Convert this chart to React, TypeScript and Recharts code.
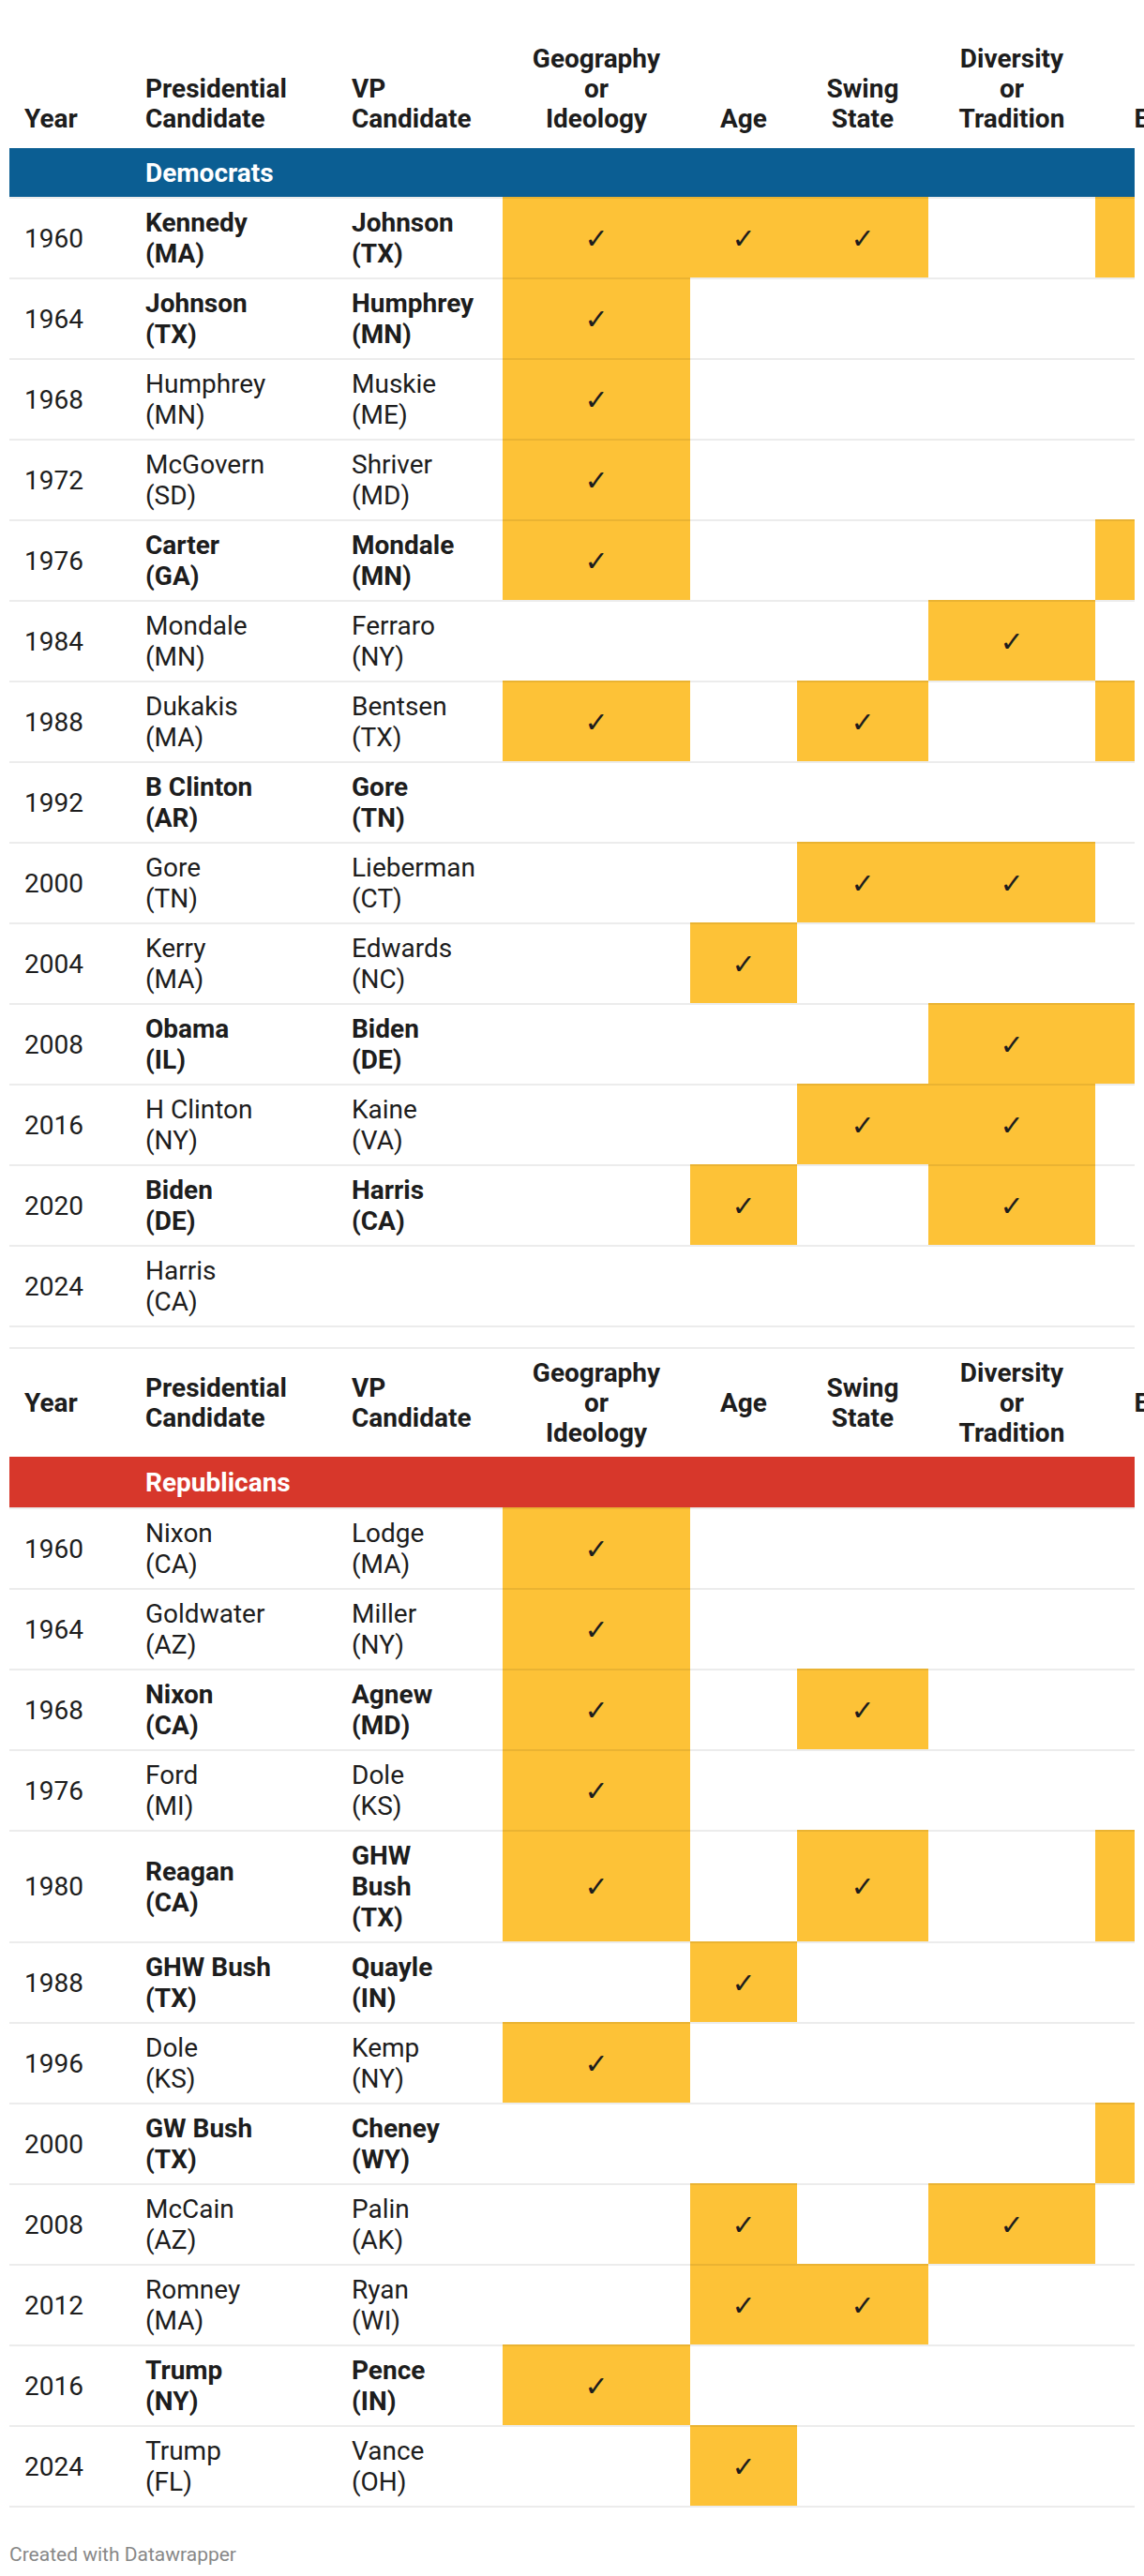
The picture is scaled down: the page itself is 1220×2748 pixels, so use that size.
import React from "react";
import { ScatterChart, Scatter, XAxis, YAxis, ReferenceArea } from "recharts";

const textHeaders = ["Year", "Presidential\nCandidate", "VP\nCandidate"];
const criteria = ["Geography\nor\nIdeology", "Age", "Swing\nState", "Diversity\nor\nTradition", "Experience"];

// Democrats
const demYears = [1960, 1964, 1968, 1972, 1976, 1984, 1988, 1992, 2000, 2004, 2008, 2016, 2020, 2024];
const demPresidents = [
  "Kennedy\n(MA)", "Johnson\n(TX)", "Humphrey\n(MN)", "McGovern\n(SD)", "Carter\n(GA)", "Mondale\n(MN)", "Dukakis\n(MA)",
  "B Clinton\n(AR)", "Gore\n(TN)", "Kerry\n(MA)", "Obama\n(IL)", "H Clinton\n(NY)", "Biden\n(DE)", "Harris\n(CA)",
];
const demVPs = [
  "Johnson\n(TX)", "Humphrey\n(MN)", "Muskie\n(ME)", "Shriver\n(MD)", "Mondale\n(MN)", "Ferraro\n(NY)", "Bentsen\n(TX)",
  "Gore\n(TN)", "Lieberman\n(CT)", "Edwards\n(NC)", "Biden\n(DE)", "Kaine\n(VA)", "Harris\n(CA)", "",
];
const demWon = [1, 1, 0, 0, 1, 0, 0, 1, 0, 0, 1, 0, 1, 0];
const demGeography = [1, 1, 1, 1, 1, 0, 1, 0, 0, 0, 0, 0, 0, 0];
const demAge = [1, 0, 0, 0, 0, 0, 0, 0, 0, 1, 0, 0, 1, 0];
const demSwing = [1, 0, 0, 0, 0, 0, 1, 0, 1, 0, 0, 1, 0, 0];
const demDiversity = [0, 0, 0, 0, 0, 1, 0, 0, 1, 0, 1, 1, 1, 0];
const demExperience = [1, 0, 0, 0, 1, 0, 1, 0, 0, 0, 1, 0, 0, 0];

// Republicans
const repYears = [1960, 1964, 1968, 1976, 1980, 1988, 1996, 2000, 2008, 2012, 2016, 2024];
const repPresidents = [
  "Nixon\n(CA)", "Goldwater\n(AZ)", "Nixon\n(CA)", "Ford\n(MI)", "Reagan\n(CA)", "GHW Bush\n(TX)",
  "Dole\n(KS)", "GW Bush\n(TX)", "McCain\n(AZ)", "Romney\n(MA)", "Trump\n(NY)", "Trump\n(FL)",
];
const repVPs = [
  "Lodge\n(MA)", "Miller\n(NY)", "Agnew\n(MD)", "Dole\n(KS)", "GHW\nBush\n(TX)", "Quayle\n(IN)",
  "Kemp\n(NY)", "Cheney\n(WY)", "Palin\n(AK)", "Ryan\n(WI)", "Pence\n(IN)", "Vance\n(OH)",
];
const repWon = [0, 0, 1, 0, 1, 1, 0, 1, 0, 0, 1, 0];
const repGeography = [1, 1, 1, 1, 1, 0, 1, 0, 0, 0, 1, 0];
const repAge = [0, 0, 0, 0, 0, 1, 0, 0, 1, 1, 0, 1];
const repSwing = [0, 0, 1, 0, 1, 0, 0, 0, 0, 1, 0, 0];
const repDiversity = [0, 0, 0, 0, 0, 0, 0, 0, 1, 0, 0, 0];
const repExperience = [0, 0, 0, 0, 1, 0, 0, 1, 0, 0, 0, 0];

// layout
const COL_EDGES = [10, 139, 359, 536, 736, 850, 990, 1168, 1390];
const TABLE_RIGHT = 1210; // the table is cut off here
const CHART_W = 1400;
const PAD = 16;
const LINE_H = 33;
const ROW_PAD = 20;
const BORDER = 2;
const FONT = "Roboto, sans-serif";
const INK = "#1d1d1d";
const YELLOW = "#fdc237";

const headers = [...textHeaders, ...criteria];
const headerX = headers.map((_, i) =>
  i < 3 ? COL_EDGES[i] + PAD : (COL_EDGES[i] + COL_EDGES[i + 1]) / 2
);

function MultiText({ x, cy, lines, bold }: any) {
  const top = cy - ((lines.length - 1) * LINE_H) / 2;
  return (
    <text fontFamily={FONT} fontSize={28} fontWeight={bold ? 700 : 400} fill={INK} textAnchor="start">
      {lines.map((l: string, k: number) => (
        <tspan key={k} x={x} y={top + k * LINE_H} dy="0.355em">
          {l}
        </tspan>
      ))}
    </text>
  );
}

type SectionProps = {
  party: string;
  color: string;
  years: number[];
  presidents: string[];
  vps: string[];
  won: number[];
  checks: number[][];
  headerH: number;
  align: "bottom" | "middle";
  barH: number;
  tailGap: number;
};

function Section(p: SectionProps) {
  let acc = p.barH;
  const rows = p.years.map((year, i) => {
    const pres = p.presidents[i].split("\n");
    const vp = p.vps[i] ? p.vps[i].split("\n") : [];
    const h = ROW_PAD + LINE_H * Math.max(2, pres.length, vp.length);
    const y1 = acc;
    acc += h;
    const cy = (y1 + BORDER + acc) / 2;
    return { i, year, pres, vp, bold: p.won[i] === 1, y1, y2: acc, cy };
  });
  const rowsEnd = acc;
  const plotH = rowsEnd + BORDER + p.tailGap;
  const chartH = p.headerH + plotH;

  const textPoints = rows.flatMap((r) => [
    { x: headerX[0], y: r.cy, lines: [String(r.year)], bold: false },
    { x: headerX[1], y: r.cy, lines: r.pres, bold: r.bold },
    { x: headerX[2], y: r.cy, lines: r.vp, bold: r.bold },
  ]);
  const cells = rows.flatMap((r) =>
    p.checks
      .map((col, c) => ({ c, on: col[r.i] === 1 }))
      .filter((d) => d.on)
      .map((d) => ({ c: d.c, y1: r.y1, y2: r.y2, x: headerX[3 + d.c], y: r.cy }))
  );
  // ticks whose cell centre falls past the cut-off edge are not visible
  const visibleChecks = cells.filter((d) => d.x < TABLE_RIGHT);
  const borders = [
    ...rows.map((r) => r.y1),
    rowsEnd,
    ...(p.tailGap > 0 ? [plotH - BORDER] : []),
  ];

  const HeaderTick = (props: any) => {
    const i = props.index ?? props.payload?.index ?? 0;
    const lines = headers[i].split("\n");
    const n = lines.length;
    const cy =
      p.align === "bottom" ? p.headerH - 32 - ((n - 1) * 32) / 2 : p.headerH / 2;
    return (
      <text fontFamily={FONT} fontSize={28} fontWeight={700} fill={INK} textAnchor={i < 3 ? "start" : "middle"}>
        {lines.map((l, k) => (
          <tspan key={k} x={props.x} y={cy + (k - (n - 1) / 2) * 32} dy="0.355em">
            {l}
          </tspan>
        ))}
      </text>
    );
  };

  return (
    <ScatterChart width={CHART_W} height={chartH} margin={{ top: 0, right: 0, bottom: 0, left: 0 }}>
      <XAxis
        type="number"
        dataKey="x"
        domain={[0, CHART_W]}
        orientation="top"
        height={p.headerH}
        ticks={headerX}
        interval={0}
        axisLine={false}
        tickLine={false}
        tick={HeaderTick}
      />
      <YAxis type="number" dataKey="y" domain={[0, plotH]} reversed hide />
      <ReferenceArea
        x1={COL_EDGES[0]}
        x2={TABLE_RIGHT}
        y1={0}
        y2={p.barH}
        fill={p.color}
        fillOpacity={1}
        label={{ value: p.party, position: "insideLeft", offset: headerX[1] - COL_EDGES[0], fill: "#fff", fontSize: 28, fontWeight: 700, fontFamily: FONT }}
      />
      {cells.map((d, k) => (
        <ReferenceArea
          key={"c" + k}
          x1={COL_EDGES[3 + d.c]}
          x2={Math.min(COL_EDGES[4 + d.c], TABLE_RIGHT)}
          y1={d.y1}
          y2={d.y2}
          fill={YELLOW}
          fillOpacity={1}
        />
      ))}
      {borders.map((y, k) => (
        <ReferenceArea key={"b" + k} x1={COL_EDGES[0]} x2={TABLE_RIGHT} y1={y} y2={y + BORDER} fill="#000" fillOpacity={0.075} />
      ))}
      <Scatter
        data={textPoints}
        isAnimationActive={false}
        shape={(s: any) => <MultiText x={s.cx} cy={s.cy} lines={s.payload.lines} bold={s.payload.bold} />}
      />
      <Scatter
        data={visibleChecks}
        isAnimationActive={false}
        shape={(s: any) => (
          <text x={s.cx} y={s.cy} dy="0.36em" textAnchor="middle" fontFamily="DejaVu Sans" fontSize={30} fill={INK}>
            ✓
          </text>
        )}
      />
    </ScatterChart>
  );
}

export default function App() {
  return (
    <div style={{ position: "absolute", left: 0, top: 0, width: 1220, height: 2748, overflow: "hidden", background: "#fff" }}>
      <Section
        party="Democrats"
        color="#0b5e93"
        years={demYears}
        presidents={demPresidents}
        vps={demVPs}
        won={demWon}
        checks={[demGeography, demAge, demSwing, demDiversity, demExperience]}
        headerH={158}
        align="bottom"
        barH={52}
        tailGap={23}
      />
      <Section
        party="Republicans"
        color="#d7372b"
        years={repYears}
        presidents={repPresidents}
        vps={repVPs}
        won={repWon}
        checks={[repGeography, repAge, repSwing, repDiversity, repExperience]}
        headerH={115}
        align="middle"
        barH={54}
        tailGap={0}
      />
      <div style={{ position: "absolute", left: 10, top: 2713, fontFamily: FONT, fontSize: 21, lineHeight: "24px", color: "#888" }}>
        Created with Datawrapper
      </div>
    </div>
  );
}
